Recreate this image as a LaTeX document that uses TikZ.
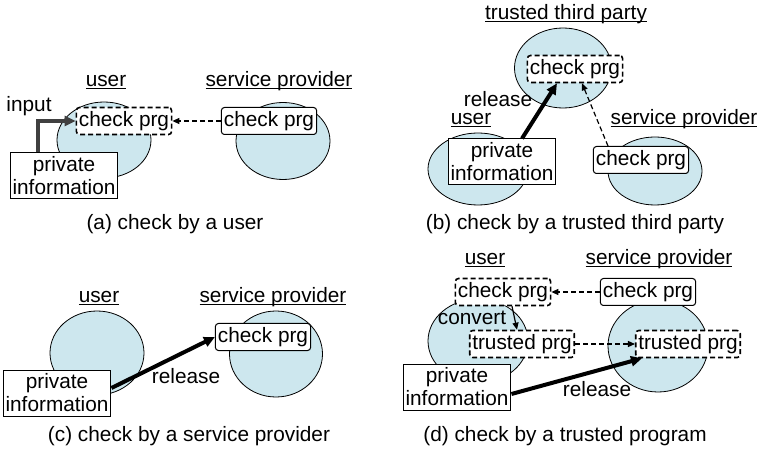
\documentclass[tikz,border=0pt]{standalone}
\usepackage{fontspec}
\setmainfont{Liberation Sans}
\usetikzlibrary{arrows.meta,positioning,shapes.geometric}
\definecolor{partyblue}{RGB}{205,231,238}
\definecolor{inputgray}{RGB}{64,64,64}

\begin{document}
\begin{tikzpicture}[x=1pt, y=-1pt,
    font=\fontsize{20.8}{23}\selectfont,
    party/.style={draw, ellipse, fill=partyblue, line width=0.8pt},
    prg/.style={draw, fill=white, rounded corners=3pt, minimum height=27pt, inner xsep=2.5pt, line width=1pt},
    tprg/.style={prg, dash pattern=on 5pt off 3pt, line width=1.6pt},
    info/.style={draw, fill=white, align=center, minimum height=46pt, inner xsep=2.5pt, inner ysep=1pt, line width=1pt},
    role/.style={anchor=base, inner sep=0pt},
    arrow/.style={-{Triangle[length=7pt,width=6pt]}, line width=1.2pt},
    dasharrow/.style={arrow, dash pattern=on 5pt off 3pt},
    boldarrow/.style={-{Triangle[length=11pt,width=10pt]}, line width=4pt},
    inarrow/.style={boldarrow, draw=inputgray}
]
\useasboundingbox (0,0) rectangle (761,457);

\node[role] (ua) at (106,87) {\underline{\smash{user}}};
\node[role] (sa) at (279,87) {\underline{\smash{service provider}}};
\node[party, minimum width=94pt, minimum height=76pt] (uea) at (104,140) {};
\node[party, minimum width=94pt, minimum height=77pt] (sea) at (283,141) {};
\node[tprg] (ca) at (124,121) {check prg};
\node[prg] (sca) at (269,121) {check prg};
\node[info] (pa) at (64,176) {private\\information};
\node[role] (ia) at (29,112) {input};
\draw[dasharrow] (sca) -- (ca);
\draw[inarrow] ([xshift=-26pt]pa.north) |- (ca.west);
\node[role] (capa) at (175,230) {(a) check by a user};

\node[role] (tb) at (566,20) {\underline{\smash{trusted third party}}};
\node[party, minimum width=97pt, minimum height=80pt] (teb) at (563,68) {};
\node[tprg] (cb) at (575,69) {check prg};
\node[role] (ub) at (471,125) {\underline{\smash{user}}};
\node[role] (sb) at (684,125) {\underline{\smash{service provider}}};
\node[party, minimum width=100pt, minimum height=72pt] (ueb) at (478,169) {};
\node[party, minimum width=94pt, minimum height=68pt] (seb) at (655,171) {};
\node[info] (pb) at (502,162) {private\\information};
\node[prg] (scb) at (641,160) {check prg};
\node[role] (rb) at (498,107) {release};
\draw[boldarrow] ([xshift=20pt]pb.north) -- ([xshift=-18pt]cb.south);
\draw[dasharrow] ([xshift=-33pt]scb.north) -- ([xshift=7pt]cb.south);
\node[role] (capb) at (575,230) {(b) check by a trusted third party};

\node[role] (uc) at (99,303) {\underline{\smash{user}}};
\node[role] (sc) at (273,303) {\underline{\smash{service provider}}};
\node[party, minimum width=94pt, minimum height=84pt] (uec) at (97,353) {};
\node[party, minimum width=93pt, minimum height=86pt] (sec) at (276,354) {};
\node[prg] (scc) at (263,337) {check prg};
\node[info] (pc) at (57,393) {private\\information};
\node[role] (rc) at (186,383) {release};
\draw[boldarrow] ([yshift=5pt]pc.east) -- (scc.west);
\node[role] (capc) at (189,441) {(c) check by a service provider};

\node[role] (ud) at (485,265) {\underline{\smash{user}}};
\node[role] (sd) at (659,265) {\underline{\smash{service provider}}};
\node[party, minimum width=100pt, minimum height=84pt] (ued) at (478,341) {};
\node[party, minimum width=100pt, minimum height=92pt] (sed) at (658,346) {};
\node[tprg] (cd) at (503,292) {check prg};
\node[prg] (scd) at (648,292) {check prg};
\node[tprg] (td) at (522,344) {trusted prg};
\node[tprg] (std) at (688,344) {trusted prg};
\node[info] (pd) at (457,387) {private\\information};
\node[role] (vd) at (472,325) {convert};
\node[role] (rd) at (597,396) {release};
\draw[dasharrow] (scd) -- (cd);
\draw[arrow] ([xshift=9pt]cd.south) -- ([xshift=-5pt]td.north);
\draw[dasharrow] (td) -- (std);
\draw[boldarrow] ([yshift=-7pt]pd.east) -- ([xshift=-46pt]std.south);
\node[role] (capd) at (565,441) {(d) check by a trusted program};
\end{tikzpicture}
\end{document}
